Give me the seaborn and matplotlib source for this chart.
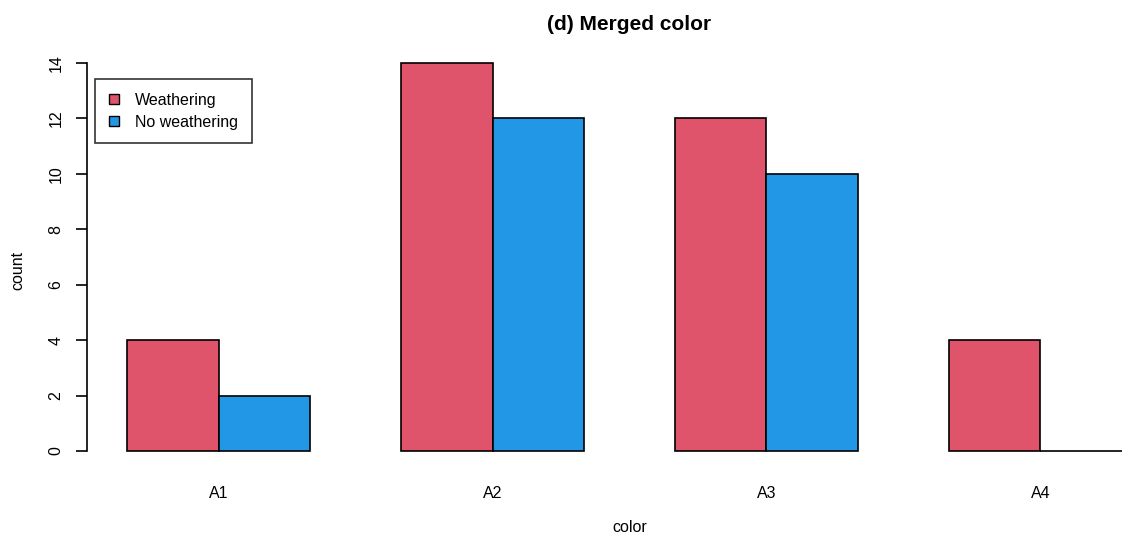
import matplotlib
matplotlib.use("Agg")
import matplotlib.pyplot as plt
from matplotlib.patches import Patch
import seaborn as sns
import pandas as pd

# Counts per merged colour class
categories = ["A1", "A2", "A3", "A4"]
weathering = [4, 14, 12, 4]
no_weathering = [2, 12, 10, 0]
groups = ["Weathering", "No weathering"]
palette = {"Weathering": "#DF536B", "No weathering": "#2297E6"}

df = pd.DataFrame({
    "color": categories * 2,
    "count": weathering + no_weathering,
    "group": [groups[0]] * len(categories) + [groups[1]] * len(categories),
})

sns.set_style("white")
plt.rcParams["font.family"] = ["Liberation Sans", "DejaVu Sans"]
plt.rcParams["text.color"] = "black"
plt.rcParams["xtick.color"] = "black"
plt.rcParams["ytick.color"] = "black"
plt.rcParams["axes.labelcolor"] = "black"

W, H = 1122, 535
fig = plt.figure(figsize=(W / 100, H / 100), dpi=100)
# plot region (pixel coordinates converted to figure fractions)
left, right, top, bottom = 87, 1172, 47.5, 466.5
ax = fig.add_axes([left / W, 1 - bottom / H, (right - left) / W, (bottom - top) / H])

sns.barplot(data=df, x="color", y="count", hue="group", hue_order=groups,
            order=categories, palette=palette, width=2 / 3, gap=0,
            errorbar=None, edgecolor="black", linewidth=1.2, saturation=1,
            ax=ax, legend=False)

for bar in ax.patches:
    bar.set_clip_on(False)

ax.set_xlim(-0.48, 3.48)
ax.set_ylim(-0.56, 14.56)

for s in ["top", "right", "bottom"]:
    ax.spines[s].set_visible(False)
ax.spines["left"].set_bounds(0, 14)
ax.spines["left"].set_linewidth(1.2)
ax.spines["left"].set_color("black")

ax.set_yticks(range(0, 15, 2))
ax.set_yticklabels([str(v) for v in range(0, 15, 2)], rotation=90, va="center")
ax.tick_params(axis="y", left=True, length=8, width=1.2, pad=9, labelsize=11.5,
               color="black", labelcolor="black")
ax.tick_params(axis="x", bottom=False, length=0, pad=14, labelsize=11.5,
               labelcolor="black")
ax.set_xlabel("")
ax.set_ylabel("")

fig.text(629.5 / W, 1 - 25 / H, "(d) Merged color", ha="center", va="center",
         fontsize=15, fontweight="bold", color="black")
fig.text(629.5 / W, 1 - 528 / H, "color", ha="center", va="center", fontsize=11.5,
         color="black")
fig.text(18 / W, 1 - 270 / H, "count", ha="center", va="center", rotation=90,
         fontsize=11.5, color="black")

handles = [Patch(facecolor=palette[g], edgecolor="black", linewidth=1.0, label=g)
           for g in groups]
leg = fig.legend(handles=handles, loc="upper left",
                 bbox_to_anchor=(95 / W, 1 - 79 / H), borderaxespad=0,
                 fontsize=11.5, frameon=True, fancybox=False, handlelength=0.65,
                 handleheight=0.65, handletextpad=1.0, labelspacing=0.45,
                 borderpad=0.85)
leg.get_frame().set_edgecolor("black")
leg.get_frame().set_linewidth(1.2)
for t in leg.get_texts():
    t.set_color("black")

fig.savefig("out.png", dpi=100)
